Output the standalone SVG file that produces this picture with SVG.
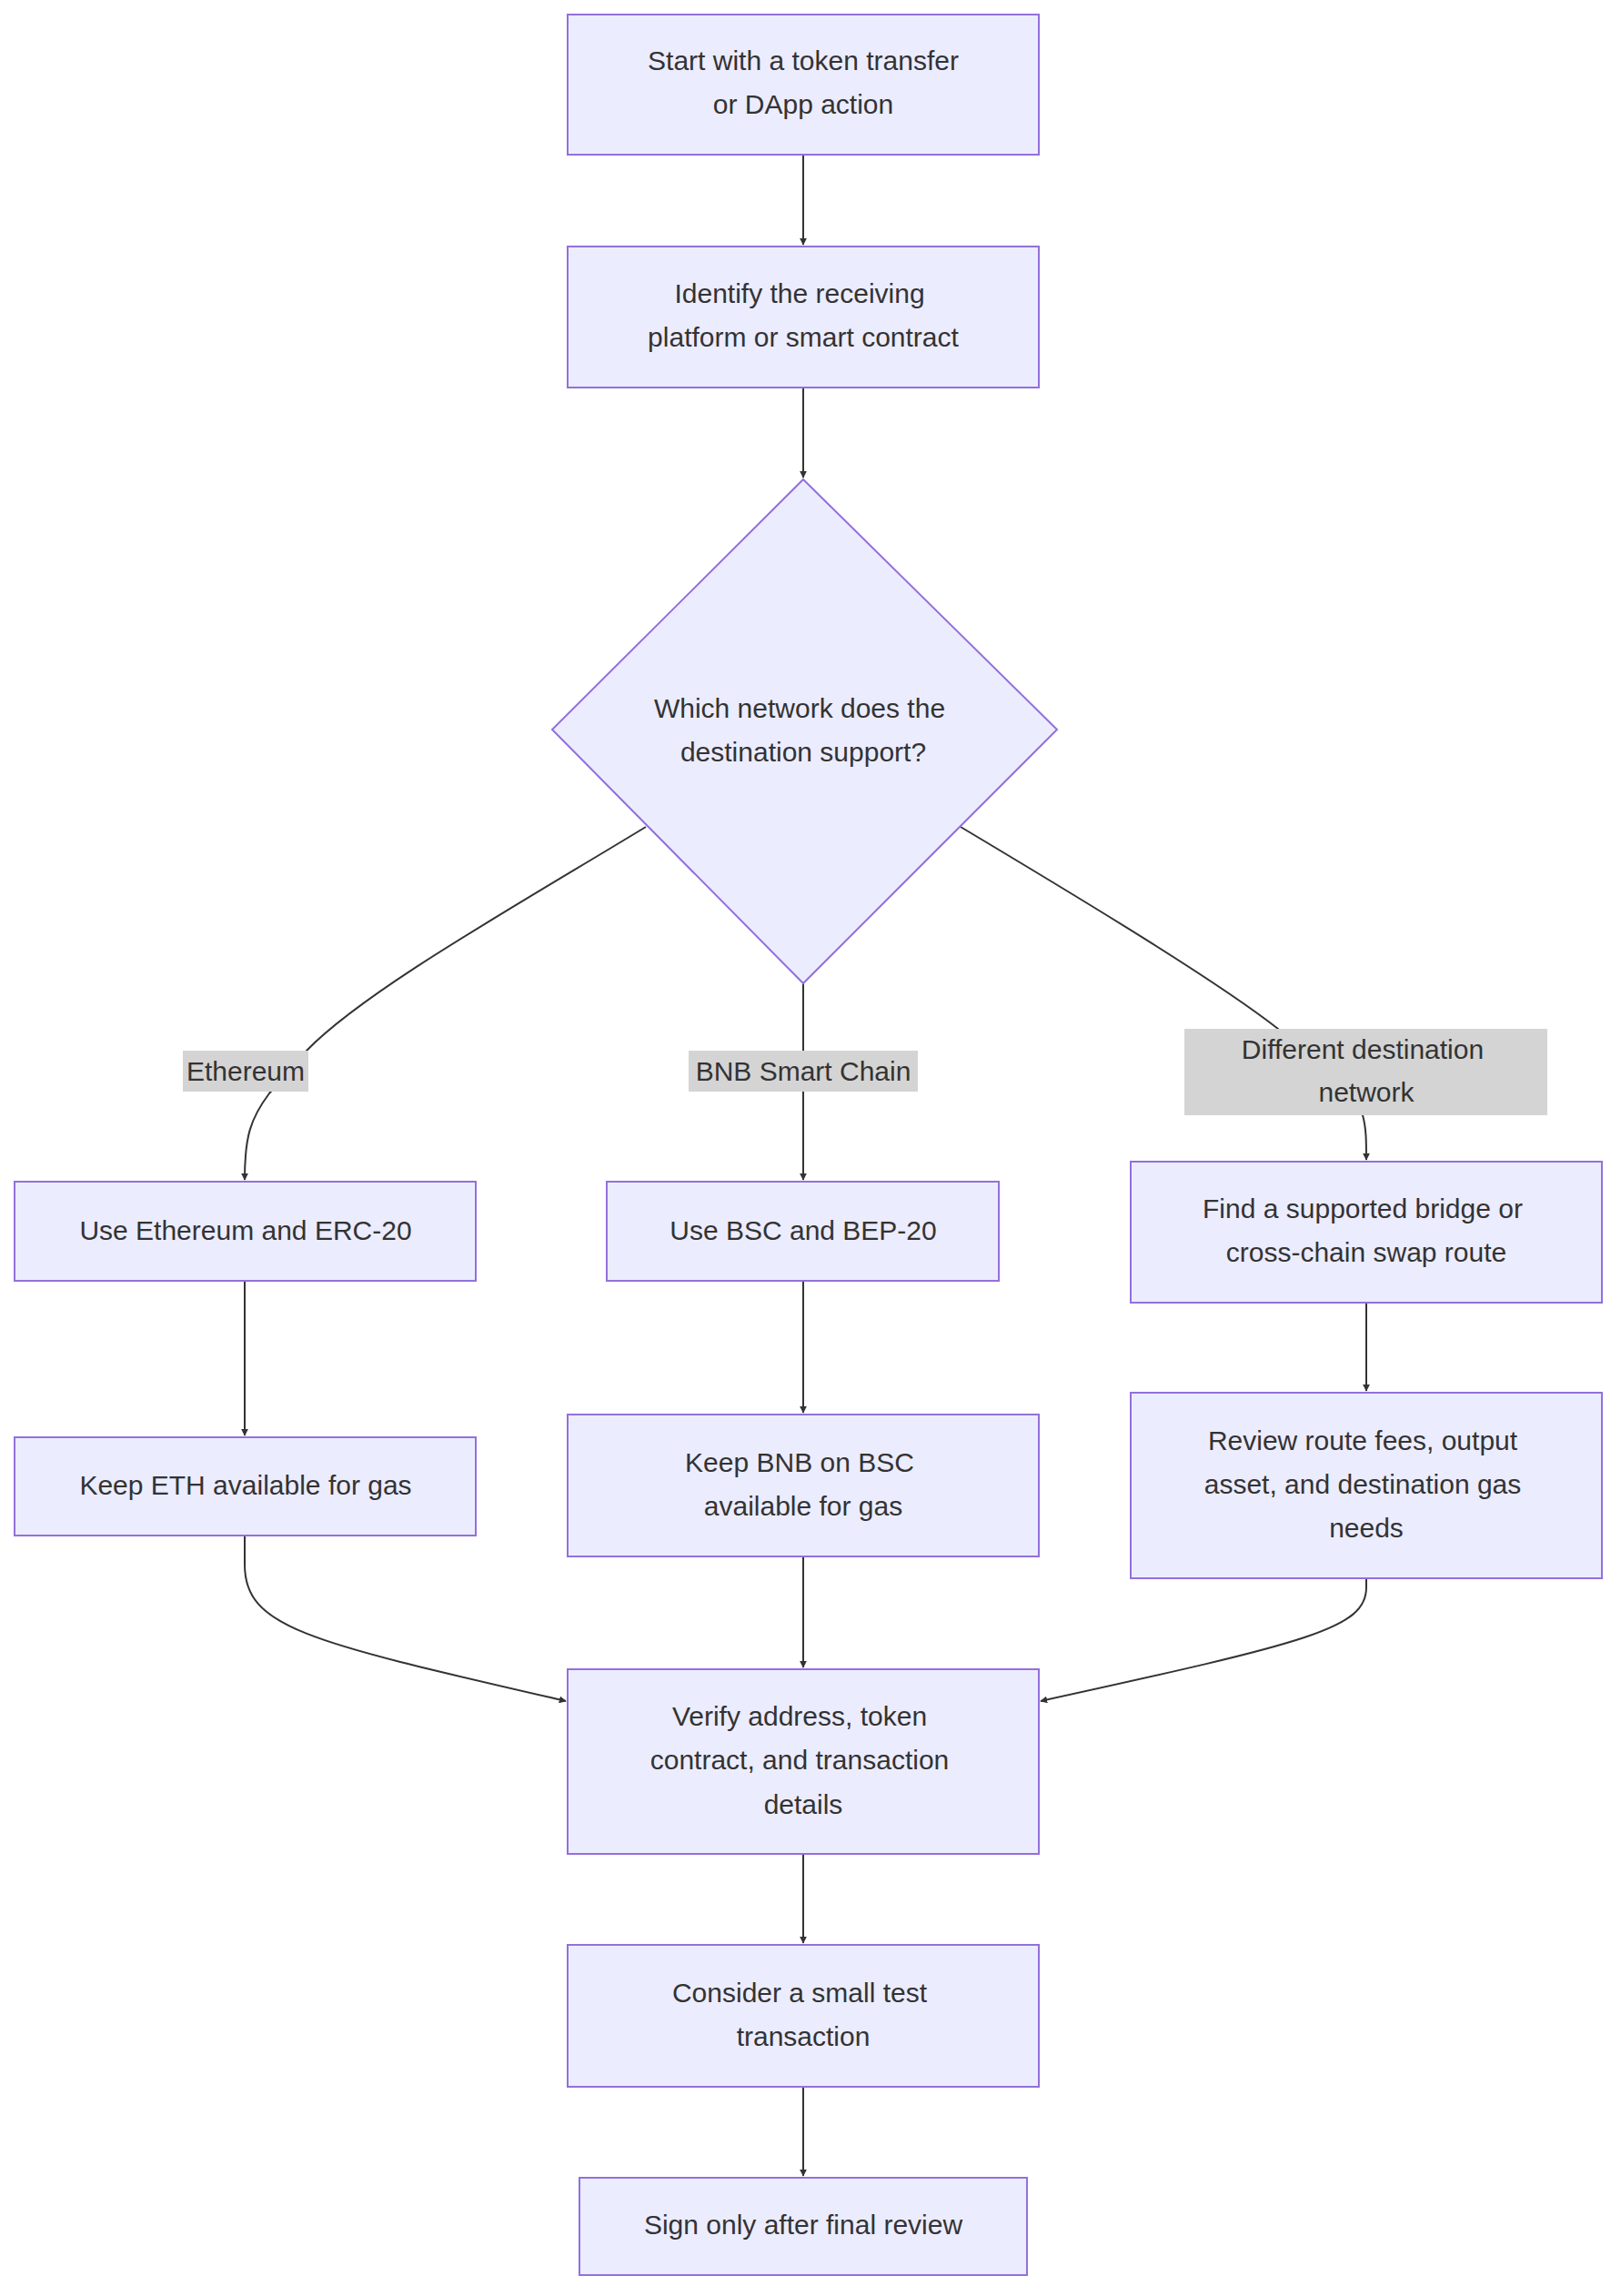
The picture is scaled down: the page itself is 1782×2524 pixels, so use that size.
<svg xmlns="http://www.w3.org/2000/svg" width="1782" height="2524" viewBox="0 0 1782 2524">
<style>
.n{fill:#ECECFF;stroke:#9370DB;stroke-width:2}
.t{font-family:"Liberation Sans",Arial,sans-serif;font-size:30px;fill:#333;text-anchor:middle;dominant-baseline:central}
.e{fill:none;stroke:#333;stroke-width:2}
.lb{fill:#D4D4D4}
</style>
<defs><marker id="a" viewBox="0 0 10 10" refX="9" refY="5" markerWidth="8" markerHeight="8" markerUnits="userSpaceOnUse" orient="auto" ><path d="M0,0L10,5L0,10z" fill="#333"/></marker>
</defs>
<rect width="1782" height="2524" fill="#fff"/>
<g id="edges">
<path class="e" d="M883,170V269" marker-end="url(#a)" style="marker-end:url(#a)"/>
<path class="e" d="M883,426V525" style="marker-end:url(#a)"/>
<path class="e" d="M710,909C560,1000 400,1090 337,1155L296,1202C275,1230 269,1250 269,1297" style="marker-end:url(#a)"/>
<path class="e" d="M883,1081V1297" style="marker-end:url(#a)"/>
<path class="e" d="M1056,909C1200,995 1340,1080 1405,1131L1498,1226C1502,1240 1502,1255 1502,1275" style="marker-end:url(#a)"/>
<path class="e" d="M269,1408V1578" style="marker-end:url(#a)"/>
<path class="e" d="M883,1408V1553" style="marker-end:url(#a)"/>
<path class="e" d="M1502,1432V1529" style="marker-end:url(#a)"/>
<path class="e" d="M269,1688L269,1720C269,1790 340,1805 622,1870" style="marker-end:url(#a)"/>
<path class="e" d="M883,1711V1833" style="marker-end:url(#a)"/>
<path class="e" d="M1502,1735L1502,1745C1502,1790 1440,1805 1144,1870" style="marker-end:url(#a)"/>
<path class="e" d="M883,2038V2136" style="marker-end:url(#a)"/>
<path class="e" d="M883,2294V2392" style="marker-end:url(#a)"/>
<rect class="lb" x="201" y="1155" width="138" height="45"/>
<text class="t" x="270" y="1177">Ethereum</text>
<rect class="lb" x="757" y="1155" width="252" height="45"/>
<text class="t" x="883" y="1177">BNB Smart Chain</text>
<rect class="lb" x="1302" y="1131" width="399" height="95"/>
<text class="t" x="1498" y="1153">Different destination</text>
<text class="t" x="1502" y="1200">network</text>
</g>
<g id="start"><rect class="n" x="624" y="16" width="518" height="154"/><text class="t" x="883" y="66">Start with a token transfer</text><text class="t" x="883" y="114">or DApp action</text></g>
<g id="identify"><rect class="n" x="624" y="271" width="518" height="155"/><text class="t" x="879" y="322">Identify the receiving</text><text class="t" x="883" y="370">platform or smart contract</text></g>
<g id="decision"><path class="n" d="M883,527L1162,802L883,1081L607,802Z"/><text class="t" x="879" y="778">Which network does the</text><text class="t" x="883" y="826">destination support?</text></g>
<g id="eth"><rect class="n" x="16" y="1299" width="507" height="109"/><text class="t" x="270" y="1352">Use Ethereum and ERC-20</text></g>
<g id="bsc"><rect class="n" x="667" y="1299" width="431" height="109"/><text class="t" x="883" y="1352">Use BSC and BEP-20</text></g>
<g id="bridge"><rect class="n" x="1243" y="1277" width="518" height="155"/><text class="t" x="1498" y="1328">Find a supported bridge or</text><text class="t" x="1502" y="1376">cross-chain swap route</text></g>
<g id="keepeth"><rect class="n" x="16" y="1580" width="507" height="108"/><text class="t" x="270" y="1632">Keep ETH available for gas</text></g>
<g id="keepbnb"><rect class="n" x="624" y="1555" width="518" height="156"/><text class="t" x="879" y="1607">Keep BNB on BSC</text><text class="t" x="883" y="1655">available for gas</text></g>
<g id="review"><rect class="n" x="1243" y="1531" width="518" height="204"/><text class="t" x="1498" y="1583">Review route fees, output</text><text class="t" x="1498" y="1631">asset, and destination gas</text><text class="t" x="1502" y="1679">needs</text></g>
<g id="verify"><rect class="n" x="624" y="1835" width="518" height="203"/><text class="t" x="879" y="1886">Verify address, token</text><text class="t" x="879" y="1934">contract, and transaction</text><text class="t" x="883" y="1983">details</text></g>
<g id="consider"><rect class="n" x="624" y="2138" width="518" height="156"/><text class="t" x="879" y="2190">Consider a small test</text><text class="t" x="883" y="2238">transaction</text></g>
<g id="sign"><rect class="n" x="637" y="2394" width="492" height="107"/><text class="t" x="883" y="2445">Sign only after final review</text></g>
</svg>
